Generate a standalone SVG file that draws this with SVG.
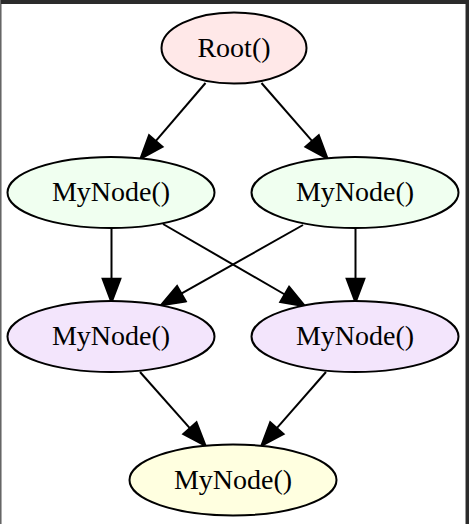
<svg xmlns="http://www.w3.org/2000/svg" width="469" height="524" viewBox="0 0 469 524">
<style>
.node ellipse{stroke:#000;stroke-width:2}
.node text{font-family:"Liberation Serif","Times New Roman",serif;font-size:28px;fill:#000;text-anchor:middle}
.edge{stroke:#000;stroke-width:2;fill:none}
</style>
<defs>
<marker id="arr" markerUnits="userSpaceOnUse" markerWidth="30" markerHeight="30" refX="0" refY="0" orient="auto" viewBox="-2 -10 26 20" overflow="visible">
<path d="M0,-7.5 L20,0 L0,7.5 Z" fill="#000" stroke="#000" stroke-width="2"/>
</marker>
</defs>
<rect x="0" y="0" width="469" height="524" fill="#fff"/>
<rect x="0" y="0" width="469" height="4" fill="#2b2b2b"/>
<rect x="0" y="0" width="1" height="524" fill="#666"/>
<rect x="1" y="4" width="1" height="520" fill="#aaa"/>
<rect x="465" y="4" width="1" height="520" fill="#999"/>
<rect x="466" y="0" width="3" height="524" fill="#2b2b2b"/>
<g id="connectors">
<line class="edge" x1="205.5" y1="83" x2="155.7" y2="141.1" marker-end="url(#arr)"/>
<line class="edge" x1="261.5" y1="83" x2="312.2" y2="141.2" marker-end="url(#arr)"/>
<line class="edge" x1="111.5" y1="228" x2="111.5" y2="279" marker-end="url(#arr)"/>
<line class="edge" x1="355.5" y1="228" x2="355.5" y2="279" marker-end="url(#arr)"/>
<line class="edge" x1="163" y1="224" x2="284.8" y2="294.5" marker-end="url(#arr)"/>
<line class="edge" x1="303" y1="225" x2="181.3" y2="293.7" marker-end="url(#arr)"/>
<line class="edge" x1="140" y1="372" x2="190" y2="428.3" marker-end="url(#arr)"/>
<line class="edge" x1="326" y1="372" x2="276.8" y2="428.2" marker-end="url(#arr)"/>
</g>
<g id="root" class="node">
<ellipse cx="234" cy="48" rx="72.5" ry="35.5" fill="#ffe8e8"/>
<text x="234" y="57">Root()</text>
</g>
<g id="mynode1" class="node">
<ellipse cx="111" cy="192.5" rx="103.5" ry="35.5" fill="#f0fff0"/>
<text x="111" y="201">MyNode()</text>
</g>
<g id="mynode2" class="node">
<ellipse cx="355" cy="192.5" rx="103.5" ry="35.5" fill="#f0fff0"/>
<text x="355" y="201">MyNode()</text>
</g>
<g id="mynode3" class="node">
<ellipse cx="111" cy="336.5" rx="103.5" ry="35.5" fill="#f3e5fc"/>
<text x="111" y="345">MyNode()</text>
</g>
<g id="mynode4" class="node">
<ellipse cx="355" cy="336.5" rx="103.5" ry="35.5" fill="#f3e5fc"/>
<text x="355" y="345">MyNode()</text>
</g>
<g id="mynode5" class="node">
<ellipse cx="233" cy="480" rx="103.5" ry="35.5" fill="#ffffe0"/>
<text x="233" y="489">MyNode()</text>
</g>
</svg>
